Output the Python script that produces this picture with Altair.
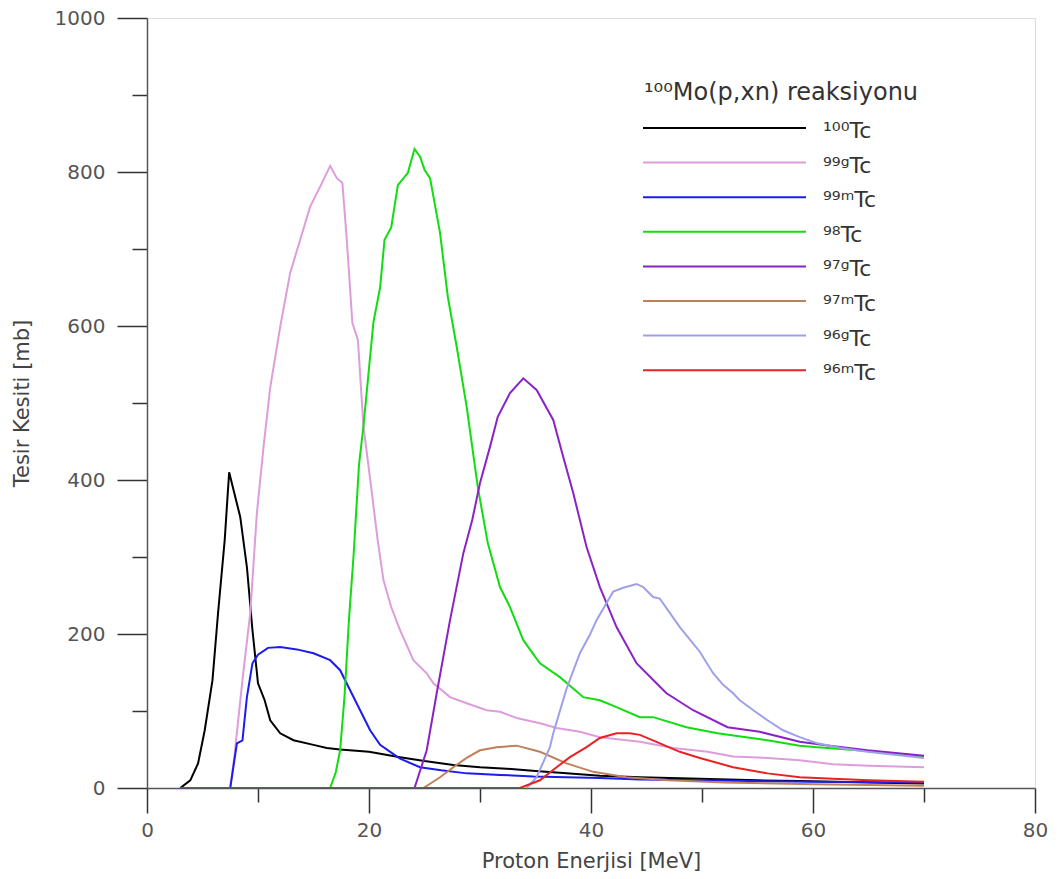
import altair as alt
import pandas as pd

# ---- data (E in MeV, sigma in mb) ----
series_names = ["100Tc", "99gTc", "99mTc", "98Tc", "97gTc", "97mTc", "96gTc", "96mTc"]
legend_labels = ["¹⁰⁰Tc", "⁹⁹ᵍTc", "⁹⁹ᵐTc", "⁹⁸Tc", "⁹⁷ᵍTc", "⁹⁷ᵐTc", "⁹⁶ᵍTc", "⁹⁶ᵐTc"]
series_colors = ["#000000", "#dd9ddd", "#1c1cee", "#11dd11", "#8a22c8", "#c0805a", "#9ea0ea", "#e82222"]

e_100 = [3.0, 3.9, 4.6, 5.2, 5.9, 6.4, 7.0, 7.4, 8.4, 9.0, 9.5, 10.0, 10.6, 11.1, 12.0, 13.2, 15.0,
         16.2, 17.4, 20.0, 22.8, 25.0, 27.6, 30.0, 32.4, 35.0, 37.8, 40.8, 44.4, 49.8, 55.0, 58.8, 65.0, 70.0]
s_100 = [0, 10, 32, 75, 140, 227, 322, 410, 352, 287, 205, 136, 114, 88, 71, 62, 56,
         52, 50, 47, 40, 35, 30, 27, 25, 22, 19, 16, 14, 12, 10, 9, 7, 6]

e_99g = [7.5, 7.9, 8.6, 9.3, 9.9, 10.5, 11.1, 12.0, 12.9, 13.8, 14.7, 15.6, 16.5, 17.1, 17.6, 18.0, 18.5,
         19.0, 19.5, 20.2, 20.8, 21.3, 22.0, 22.8, 24.0, 25.2, 25.8, 27.3, 28.8, 30.6, 31.8, 33.3, 35.4,
         36.9, 39.0, 40.8, 44.4, 47.4, 50.5, 52.8, 55.9, 58.8, 61.8, 65.0, 70.0]
s_99g = [0, 45, 140, 227, 357, 443, 520, 599, 669, 712, 755, 781, 808, 792, 786, 712, 604,
         582, 470, 390, 320, 270, 235, 205, 166, 149, 136, 118, 110, 101, 99, 91, 84,
         78, 73, 66, 60, 52, 47, 41, 39, 36, 31, 29, 27]

e_99m = [7.5, 8.1, 8.6, 9.0, 9.5, 10.0, 10.9, 12.0, 13.5, 15.0, 16.5, 17.4, 18.3, 19.2, 20.1, 21.0,
         22.3, 22.8, 24.6, 26.5, 28.8, 31.8, 34.8, 40.8, 44.4, 50.0, 60.0, 70.0]
s_99m = [0, 58, 62, 118, 162, 173, 182, 183, 180, 175, 166, 153, 127, 101, 75, 56,
         43, 38, 27, 23, 19, 17, 15, 13, 11, 10, 8, 7]

e_98 = [16.5, 17.0, 17.4, 17.8, 18.2, 18.6, 19.1, 19.5, 20.4, 21.0, 21.4, 22.0, 22.6, 23.5, 24.1, 24.6,
        25.0, 25.5, 26.4, 27.1, 27.9, 28.8, 29.8, 30.7, 31.8, 32.7, 33.9, 35.4, 37.2, 39.3, 40.8, 42.3,
        44.4, 45.6, 48.6, 51.4, 55.9, 58.8, 60.4, 64.9, 70.0]
s_98 = [0, 20, 49, 120, 220, 300, 420, 470, 605, 650, 712, 728, 783, 799, 830, 820,
        803, 792, 721, 638, 573, 495, 391, 318, 261, 235, 192, 162, 144, 118, 114, 105,
        92, 92, 79, 71, 62, 55, 53, 48, 40]

e_97g = [24.1, 25.2, 26.1, 27.3, 28.5, 29.3, 30.0, 30.9, 31.6, 32.7, 33.9, 35.1, 36.6, 37.5, 38.4, 39.6,
         40.8, 42.3, 44.1, 45.9, 46.8, 49.2, 52.3, 55.2, 58.8, 61.5, 64.9, 70.0]
s_97g = [0, 49, 123, 218, 305, 348, 396, 443, 482, 513, 532, 517, 478, 430, 383, 313,
         261, 209, 162, 136, 123, 101, 79, 73, 60, 55, 49, 42]

e_97m = [24.9, 26.4, 27.6, 28.8, 30.0, 31.5, 33.3, 35.4, 37.8, 40.2, 43.2, 47.0, 52.0, 60.0, 70.0]
s_97m = [0, 14, 27, 39, 49, 53, 55, 47, 32, 21, 14, 10, 7, 5, 3]

e_96g = [34.2, 35.1, 36.3, 36.6, 37.8, 39.0, 39.9, 40.5, 42.0, 42.9, 44.1, 44.7, 45.6, 46.2, 48.0, 49.8,
         51.0, 51.9, 52.8, 53.4, 55.0, 55.9, 57.3, 58.8, 60.4, 62.5, 64.9, 70.0]
s_96g = [0, 14, 53, 71, 129, 175, 199, 218, 255, 260, 265, 261, 248, 246, 209, 177,
         149, 134, 123, 114, 97, 88, 75, 66, 58, 52, 47, 39]

e_96m = [3.0, 33.6, 35.4, 36.9, 38.1, 39.6, 40.8, 42.3, 43.5, 44.4, 45.9, 48.0, 49.8, 52.8, 55.9, 58.8,
         61.8, 65.0, 70.0]
s_96m = [0, 0, 10, 27, 40, 53, 65, 71, 71, 69, 60, 47, 39, 27, 19, 14,
         12, 10, 8]

energies = [e_100, e_99g, e_99m, e_98, e_97g, e_97m, e_96g, e_96m]
sigmas = [s_100, s_99g, s_99m, s_98, s_97g, s_97m, s_96g, s_96m]

x_ticks = list(range(0, 81, 10))
y_ticks = list(range(0, 1001, 100))

FONT = "DejaVu Sans"
W, H = 888, 770

x_axis = alt.Axis(
    values=x_ticks, format="d", labelExpr="datum.value % 20 === 0 ? datum.label : ''",
    tickSize={"condition": {"test": "datum.value % 20 === 0", "value": 25}, "value": 14},
    grid=False, domainColor="#555555", domainWidth=1.5, tickColor="#333333", tickWidth=1.5,
    labelFont=FONT, labelFontSize=20, labelColor="#555555", labelPadding=7, labelFlush=False,
    title="Proton Enerjisi [MeV]", titleFont=FONT, titleFontSize=21, titleFontWeight="normal",
    titleColor="#444444", titleX=W / 2, titleY=73, titleAnchor="middle", titleBaseline="middle",
)
y_axis = alt.Axis(
    values=y_ticks, format="d", labelExpr="datum.value % 200 === 0 ? datum.label : ''",
    tickSize={"condition": {"test": "datum.value % 200 === 0", "value": 30}, "value": 15},
    grid=False, domainColor="#555555", domainWidth=1.5, tickColor="#333333", tickWidth=1.5,
    labelFont=FONT, labelFontSize=20, labelColor="#555555", labelPadding=12, labelFlush=False,
    title="Tesir Kesiti [mb]", titleFont=FONT, titleFontSize=21, titleFontWeight="normal",
    titleColor="#444444", titleX=-125, titleY=H / 2, titleAngle=-90, titleAlign="center",
    titleBaseline="middle",
)
x_scale = alt.Scale(domain=[0, 80], nice=False, zero=False)
y_scale = alt.Scale(domain=[0, 1000], nice=False)

layers = []
for name, e, s, c in zip(series_names, energies, sigmas, series_colors):
    df = pd.DataFrame({"E": e, "sigma": s, "series": name})
    layers.append(
        alt.Chart(df).mark_line(color=c, strokeWidth=2, clip=True).encode(
            x=alt.X("E:Q", scale=x_scale, axis=x_axis),
            y=alt.Y("sigma:Q", scale=y_scale, axis=y_axis),
        )
    )

# ---- legend drawn by hand ----
one = alt.Data(values=[{"k": 1}])
layers.append(
    alt.Chart(one).mark_text(align="left", baseline="middle", font=FONT, fontSize=24, color="#333333").encode(
        x=alt.value(497), y=alt.value(75), text=alt.value("¹⁰⁰Mo(p,xn) reaksiyonu")
    )
)
row_y0, row_dy = 110, 34.6
for i, (lab, c) in enumerate(zip(legend_labels, series_colors)):
    yy = row_y0 + i * row_dy
    layers.append(
        alt.Chart(one).mark_rule(color=c, strokeWidth=2).encode(
            x=alt.value(496), x2=alt.value(659), y=alt.value(yy)
        )
    )
    layers.append(
        alt.Chart(one).mark_text(align="left", baseline="middle", font=FONT, fontSize=22, color="#333333").encode(
            x=alt.value(676), y=alt.value(yy + 3), text=alt.value(lab)
        )
    )

chart = alt.layer(*layers).properties(
    width=W, height=H,
    padding={"left": 147, "top": 18, "right": 24, "bottom": 91},
    autosize=alt.AutoSizeParams(type="none"),
).configure_view(stroke=None).configure(background="white")

chart.save("out.html", embed_options={"renderer": "svg", "actions": False})
